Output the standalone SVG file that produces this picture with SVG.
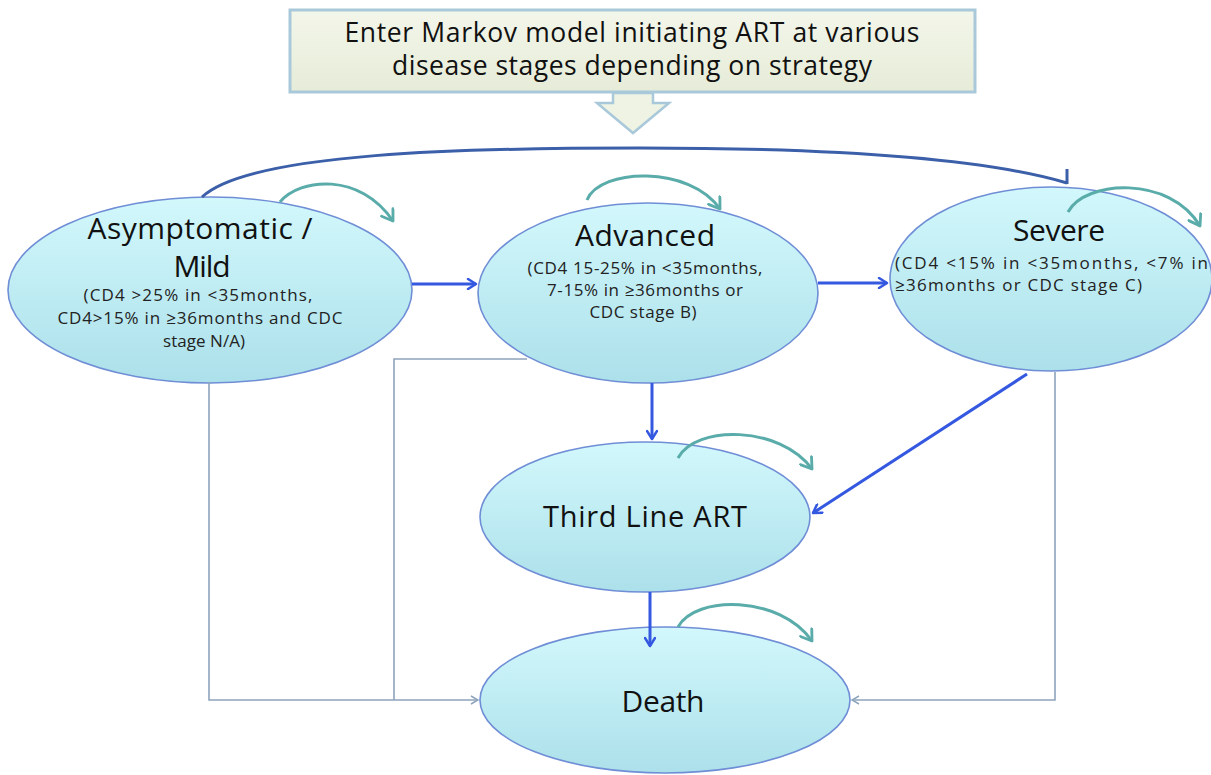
<svg xmlns="http://www.w3.org/2000/svg" width="1211" height="775" viewBox="0 0 1211 775">
<defs>
  <linearGradient id="ellFill" x1="0" y1="0" x2="0" y2="1">
    <stop offset="0" stop-color="#d2f8fc"/>
    <stop offset="1" stop-color="#ace0ea"/>
  </linearGradient>
  <linearGradient id="boxFill" x1="0" y1="0" x2="0" y2="1">
    <stop offset="0" stop-color="#f3f6ea"/>
    <stop offset="1" stop-color="#e6ecd8"/>
  </linearGradient>
  <marker id="mBlue" viewBox="0 0 12 12" refX="10" refY="6" markerWidth="12" markerHeight="12" markerUnits="userSpaceOnUse" orient="auto">
    <path d="M2,1 L10,6 L2,11" fill="none" stroke="#3558e0" stroke-width="2.5" stroke-linecap="round" stroke-linejoin="round"/>
  </marker>
  <marker id="mTeal" viewBox="0 0 14 14" refX="11" refY="7" markerWidth="16" markerHeight="16" markerUnits="userSpaceOnUse" orient="auto">
    <path d="M2,1 L11,7 L2,13" fill="none" stroke="#5aacaa" stroke-width="2.5" stroke-linecap="round" stroke-linejoin="round"/>
  </marker>
  <marker id="mGray" viewBox="0 0 10 10" refX="9" refY="5" markerWidth="10" markerHeight="10" markerUnits="userSpaceOnUse" orient="auto">
    <path d="M2,1 L9,5 L2,9" fill="none" stroke="#8ea4bc" stroke-width="1.5"/>
  </marker>
</defs>
<style>
  .ell { fill: url(#ellFill); stroke: #6f8ed6; stroke-width: 1.6; }
  .t { font-family: "Open Sans", Lato, "Liberation Sans", sans-serif; fill: #111; text-anchor: middle; }
  .s { text-anchor: start; }
  .big { font-size: 30px; }
  .sub { font-size: 17px; fill: #222; }
  .blue { fill: none; stroke: #3558e0; stroke-width: 3; marker-end: url(#mBlue); }
  .teal { fill: none; stroke: #5aacaa; stroke-width: 3; marker-end: url(#mTeal); }
  .gray { fill: none; stroke: #8ea4bc; stroke-width: 1.6; }
  .arc { fill: none; stroke: #3b5fa8; stroke-width: 3; }
</style>
<rect width="1211" height="775" fill="#ffffff"/>

<g id="entry">
  <rect x="290" y="10" width="685" height="82" fill="url(#boxFill)" stroke="#a9c9da" stroke-width="3"/>
  <text class="t" x="632" y="42" font-size="26.5" textLength="575">Enter Markov model initiating ART at various</text>
  <text class="t" x="632" y="75" font-size="26.5" textLength="480">disease stages depending on strategy</text>
  <path d="M613,93 L653,93 L653,103 L669,103 L633,133 L597,103 L613,103 Z" fill="#eef3e3" stroke="#a9c9da" stroke-width="2.5"/>
</g>

<g id="node-asymptomatic">
  <ellipse class="ell" cx="210" cy="290" rx="202" ry="93"/>
  <text class="t big" x="200" y="239" textLength="225">Asymptomatic /</text>
  <text class="t big" x="202" y="277" textLength="57">Mild</text>
  <text class="t sub" x="198" y="301" textLength="229">(CD4 &gt;25% in &lt;35months,</text>
  <text class="t sub" x="200" y="324" textLength="285">CD4&gt;15% in ≥36months and CDC</text>
  <text class="t sub" x="204" y="347" textLength="82">stage N/A)</text>
</g>

<g id="node-advanced">
  <ellipse class="ell" cx="648" cy="293" rx="170" ry="90"/>
  <text class="t big" x="645" y="246" textLength="140">Advanced</text>
  <text class="t sub" x="645" y="274" textLength="235">(CD4 15-25% in &lt;35months,</text>
  <text class="t sub" x="645" y="296" textLength="196">7-15% in ≥36months  or</text>
  <text class="t sub" x="643" y="318" textLength="107">CDC stage B)</text>
</g>

<g id="node-severe">
  <ellipse class="ell" cx="1051" cy="279" rx="161" ry="92"/>
  <text class="t big" x="1059" y="241" textLength="92">Severe</text>
  <text class="t sub s" x="895" y="269" textLength="313">(CD4 &lt;15% in &lt;35months,  &lt;7% in</text>
  <text class="t sub s" x="895" y="291" textLength="247">≥36months  or CDC stage C)</text>
</g>

<g id="node-thirdline">
  <ellipse class="ell" cx="645" cy="517" rx="165" ry="75"/>
  <text class="t" x="645" y="527" font-size="29" textLength="204">Third Line ART</text>
</g>

<g id="node-death">
  <ellipse class="ell" cx="665" cy="700" rx="185" ry="73"/>
  <text class="t" x="663" y="712" font-size="30" textLength="83">Death</text>
</g>

<g id="connectors">
  <path class="gray" d="M209,382 L209,700 L478,700" marker-end="url(#mGray)"/>
  <path class="gray" d="M527,359 L394,359 L394,700"/>
  <path class="gray" d="M1055,372 L1055,700 L852,700" marker-end="url(#mGray)"/>
  <path class="arc" d="M202,197 C250,152 470,148 640,148 C850,148 990,160 1067,183"/>
  <path class="arc" d="M1067,169 L1067,184"/>
  <path class="blue" d="M412,284 L476,284"/>
  <path class="blue" d="M818,283 L887,283"/>
  <path class="blue" d="M652,383 L652,439"/>
  <path class="blue" d="M1027,374 L813,513"/>
  <path class="blue" d="M650,592 L650,646"/>
</g>

<g id="self-loops">
  <path class="teal" d="M280,202 C300,178 360,172 393,221"/>
  <path class="teal" d="M587,200 C600,168 690,165 720,209"/>
  <path class="teal" d="M1068,212 C1085,180 1170,175 1200,226"/>
  <path class="teal" d="M678,458 C695,425 780,425 812,469"/>
  <path class="teal" d="M678,627 C695,595 780,595 812,641"/>
</g>
</svg>
